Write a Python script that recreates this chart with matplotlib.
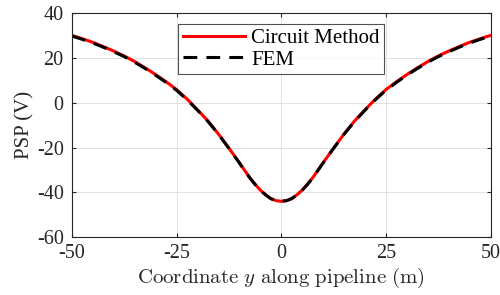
import matplotlib
matplotlib.use("Agg")
import matplotlib.pyplot as plt
import numpy as np

plt.rcParams['font.family'] = ['Liberation Serif', 'DejaVu Serif']
plt.rcParams['mathtext.fontset'] = 'cm'
plt.rcParams['axes.unicode_minus'] = False

# values (symmetric about y = 0)
y_half = [0, 1.25, 2.5, 3.75, 5, 6.25, 7.5, 8.75, 10, 12.5, 15, 17.5, 20, 22.5, 25,
          27.5, 30, 32.5, 35, 37.5, 40, 42.5, 45, 47.5, 50]
psp_circuit_half = [-44.0, -43.7, -42.8, -41.1, -39.0, -36.4, -33.5, -30.2, -26.8, -20.3,
                    -14.0, -8.2, -3.2, 1.6, 5.8,
                    9.3, 12.5, 15.5, 18.3, 20.8, 23.0, 25.0, 26.9, 28.5, 30.0]
psp_fem_half = [-44.0, -43.7, -42.8, -41.1, -39.1, -36.5, -33.6, -30.3, -26.9, -20.4,
                -14.1, -8.4, -3.4, 1.3, 5.5,
                9.0, 12.2, 15.2, 18.0, 20.5, 22.7, 24.7, 26.6, 28.2, 29.7]

y_coord = [-v for v in y_half[:0:-1]] + y_half
psp_circuit = psp_circuit_half[:0:-1] + psp_circuit_half
psp_fem = psp_fem_half[:0:-1] + psp_fem_half

xticks = [-50, -25, 0, 25, 50]
yticks = [-60, -40, -20, 0, 20, 40]

fig = plt.figure(figsize=(5, 2.95), dpi=100)
ax = fig.add_axes([0.144, 0.196, 0.837, 0.76])

ax.plot(y_coord, psp_circuit, color='#ff0000', lw=2.2, label='Circuit Method')
ax.plot(y_coord, psp_fem, color='black', lw=2.2, ls=(0, (4.5, 3.0)), label='FEM')

ax.set_xlim(-50, 50)
ax.set_ylim(-60, 40)
ax.set_xticks(xticks)
ax.set_yticks(yticks)
ax.grid(True, color='#dcdcdc', lw=0.6)
ax.set_axisbelow(True)

ax.tick_params(direction='in', top=True, right=True, length=3, width=0.8,
               colors='#262626', labelsize=14.5)
ax.tick_params(axis='x', pad=5)
ax.tick_params(axis='y', pad=6)
for s in ax.spines.values():
    s.set_color('#262626')
    s.set_linewidth(0.8)

ax.set_ylabel('PSP (V)', fontsize=15, color='#262626', labelpad=2)
ax.set_xlabel(r'$\mathrm{Coordinate}\ y\ \mathrm{along\ pipeline\ (m)}$',
              fontsize=15, color='#262626', labelpad=2)

leg = ax.legend(loc='upper center', bbox_to_anchor=(0.5, 0.95), fontsize=15,
                frameon=True, fancybox=False, edgecolor='#262626',
                handlelength=3.0, borderpad=0.2, labelspacing=0.1,
                handletextpad=0.3, borderaxespad=0)
leg.get_frame().set_linewidth(0.8)

fig.savefig('out.png', dpi=100)
